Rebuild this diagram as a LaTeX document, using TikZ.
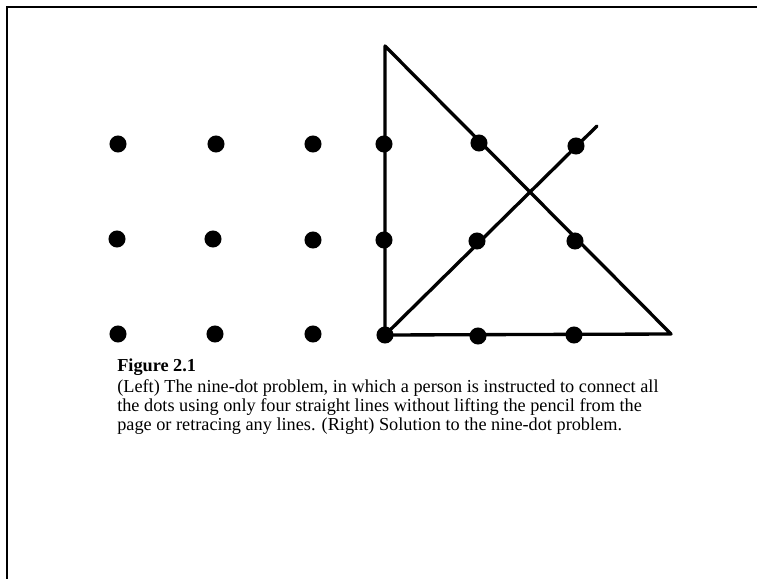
\documentclass[tikz,border=0pt]{standalone}
\usepackage{fontspec}
\setmainfont{Liberation Serif}
\usetikzlibrary{positioning}

\begin{document}
\begin{tikzpicture}[x=0.75pt,y=-0.75pt,
  dot/.style={circle,fill=black,inner sep=0pt,minimum size=12.8pt},
  edge/.style={line width=2.5pt,line cap=round,line join=round},
  frame/.style={line width=1.6pt},
  capt/.style={inner sep=0pt,align=left,font=\fontsize{13.7}{14.3}\selectfont}]
\useasboundingbox (0,0) rectangle (757,579);
% frame (top and left edges only)
\draw[frame] (757,7) -- (7,7) -- (7,579);
% left: the nine dots
\node[dot] (l11) at (118,144) {};
\node[dot] (l12) at (216,144) {};
\node[dot] (l13) at (313,144) {};
\node[dot] (l21) at (117,239) {};
\node[dot] (l22) at (213,239) {};
\node[dot] (l23) at (313,240) {};
\node[dot] (l31) at (118,334) {};
\node[dot] (l32) at (215,334) {};
\node[dot] (l33) at (313,334) {};
% right: the solution
\node[dot] (r11) at (384,144) {};
\node[dot] (r12) at (479,143) {};
\node[dot] (r13) at (576,146) {};
\node[dot] (r21) at (384,240) {};
\node[dot] (r22) at (477,241) {};
\node[dot] (r23) at (575,241) {};
\node[dot] (r31) at (385,335) {};
\node[dot] (r32) at (478,336) {};
\node[dot] (r33) at (574,335) {};
\coordinate (apex) at (385,46);
\coordinate (tip) at (671,334);
\coordinate (tail) at (597,126);
\draw[edge] (r31.center) -- (apex) -- (tip) -- (r31.center) -- (tail);
% caption
\node[capt,anchor=base west,font=\bfseries\fontsize{13.7}{14.3}\selectfont] (fig) at (117,371) {Figure 2.1};
\node[capt,anchor=north west] (text) at (117,379) {(Left) The nine-dot problem, in which a person is instructed to connect all\\
the dots using only four straight lines without lifting the pencil from the\\
page or retracing any lines. (Right) Solution to the nine-dot problem.};
\end{tikzpicture}
\end{document}
